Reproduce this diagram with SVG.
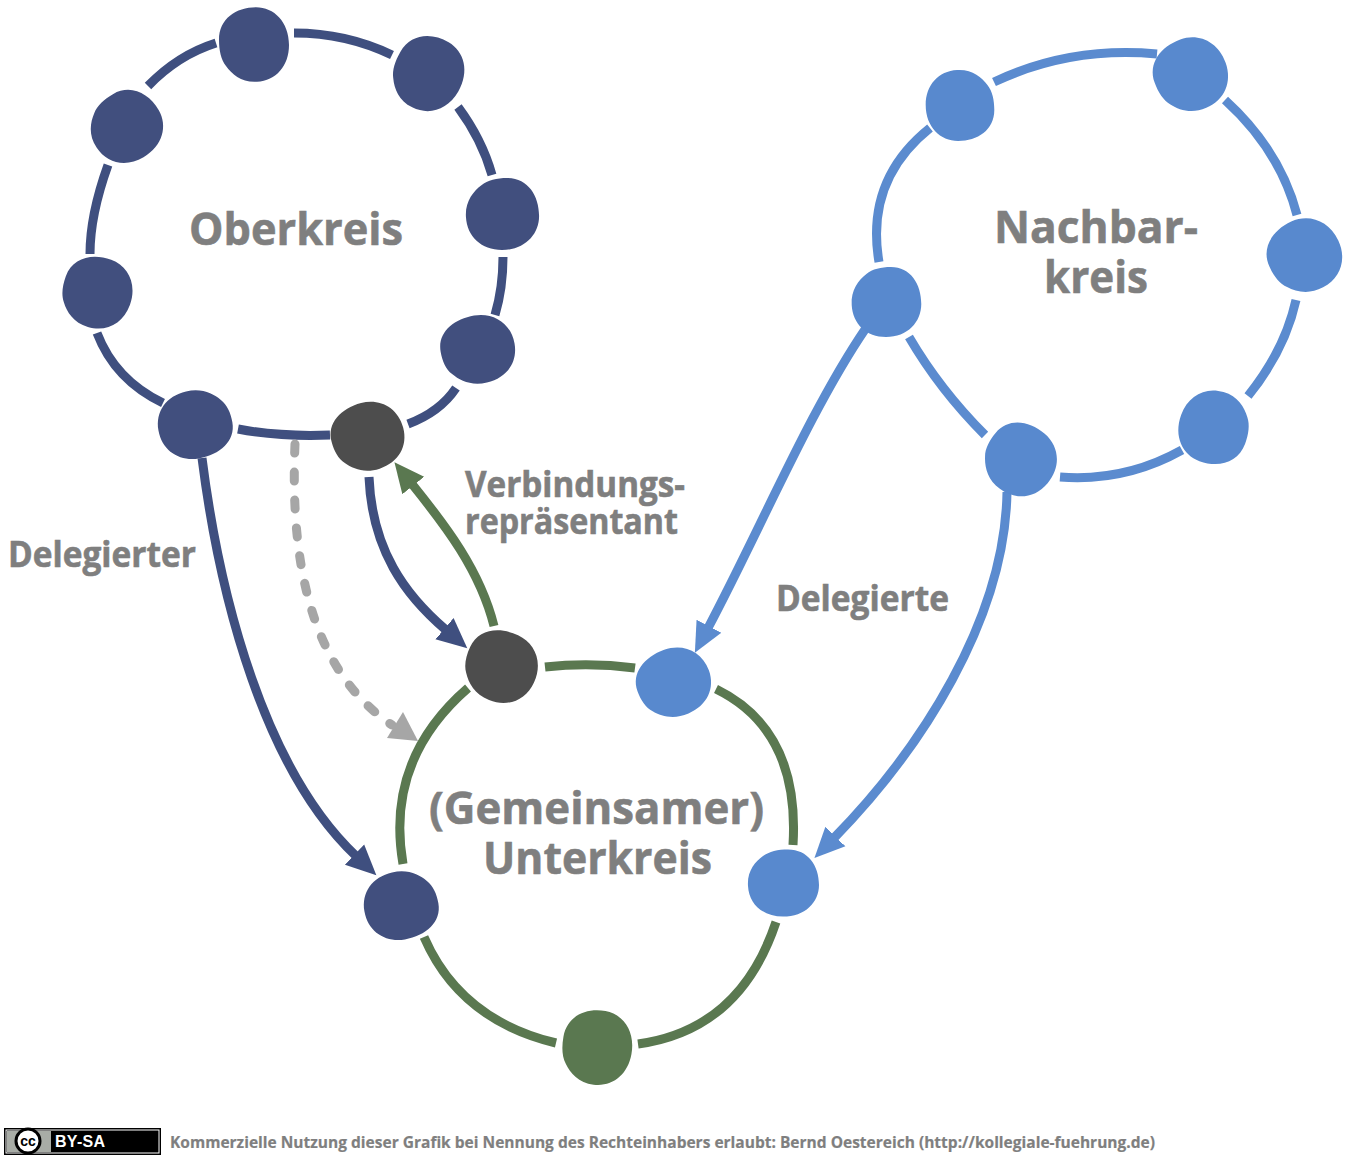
<svg xmlns="http://www.w3.org/2000/svg" width="1348" height="1161" viewBox="0 0 1348 1161">
<style>
.t{font-family:"Open Sans","Noto Sans","DejaVu Sans",sans-serif;font-weight:700;fill:#7f7f7f;stroke:#7f7f7f;stroke-width:.6}
.big{font-size:45px}.mid{font-size:35px}.foot{font-size:16px;stroke-width:.2}
.c{fill:none;stroke-width:9}
.nv{stroke:#3f4f7f}.bl{stroke:#5b8bcf}.gr{stroke:#5a7850}
.fnv{fill:#414f7e}.fbl{fill:#5889ce}.fgr{fill:#5a7850}.fdk{fill:#4d4d4d}
</style>
<defs>
<path id="b" d="M-35,-5C-35,-25 -18,-36 2,-36C20,-36 35,-22 35,0C35,20 22,34 3,35C-12,36 -22,28 -28,20C-33,14 -35,5 -35,-5Z"/>
<marker id="anv" markerUnits="userSpaceOnUse" markerWidth="34" markerHeight="34" refX="2" refY="17" orient="auto"><path d="M0,3L30,17L0,31Z" fill="#3f4f7f"/></marker>
<marker id="abl" markerUnits="userSpaceOnUse" markerWidth="34" markerHeight="34" refX="2" refY="17" orient="auto"><path d="M0,3L30,17L0,31Z" fill="#5b8bcf"/></marker>
<marker id="agr" markerUnits="userSpaceOnUse" markerWidth="34" markerHeight="34" refX="2" refY="17" orient="auto"><path d="M0,3L30,17L0,31Z" fill="#5a7850"/></marker>
</defs>
<rect width="1348" height="1161" fill="#fff"/>
<g id="connectors">
<path class="c nv" d="M216,43Q178,55 148,86"/>
<path class="c nv" d="M294,33C330,33 365,42 392,55"/>
<path class="c nv" d="M458,107C475,130 485,150 492,175"/>
<path class="c nv" d="M503,257C503,280 500,298 495,315"/>
<path class="c nv" d="M456,388Q440,412 408,424"/>
<path class="c nv" d="M330,435Q280,437 238,429"/>
<path class="c nv" d="M163,403Q115,380 97,333"/>
<path class="c nv" d="M90,254Q90,215 108,165"/>
<path class="c bl" d="M994,82Q1070,46 1157,54"/>
<path class="c bl" d="M1225,100Q1280,150 1297,215"/>
<path class="c bl" d="M1296,300Q1285,350 1248,396"/>
<path class="c bl" d="M1182,450Q1125,482 1060,477"/>
<path class="c bl" d="M985,435Q940,390 909,337"/>
<path class="c bl" d="M879,262Q865,180 930,128"/>
<path class="c gr" d="M545,667Q590,662 635,668"/>
<path class="c gr" d="M716,689Q800,730 793,845"/>
<path class="c gr" d="M776,922Q740,1030 638,1044"/>
<path class="c gr" d="M556,1043Q460,1020 424,937"/>
<path class="c gr" d="M403,864Q385,760 468,688"/>
<path class="c nv" marker-end="url(#anv)" d="M202,458C220,600 265,770 356,856"/>
<path class="c bl" marker-end="url(#abl)" d="M866,328C810,410 760,530 708,628"/>
<path class="c bl" marker-end="url(#abl)" d="M1007,492C1005,620 920,750 834,838"/>
<path class="c nv" marker-end="url(#anv)" d="M369,477C372,550 405,595 446,630"/>
<path class="c gr" marker-end="url(#agr)" d="M494,626C480,570 445,525 412,484"/>
<path d="M295,444C290,560 310,670 392,725" fill="none" stroke="#a6a6a6" stroke-width="9" stroke-linecap="round" stroke-dasharray="9 19"/>
<path d="M418,741L387,738L403,712Z" fill="#a6a6a6"/>
</g>
<g id="n1"><use href="#b" class="fnv" transform="translate(254,45) scale(1,1.05)"/></g>
<g id="n2"><use href="#b" class="fnv" transform="translate(428,74) rotate(30) scale(1,1.05)"/></g>
<g id="n3"><use href="#b" class="fnv" transform="translate(502,214) rotate(90) scale(1.03)"/></g>
<g id="n4"><use href="#b" class="fnv" transform="translate(478,350) rotate(-10) scale(1.06,.96)"/></g>
<g id="n5"><use href="#b" class="fdk" transform="translate(368,437) rotate(-15) scale(1.04,.96)"/></g>
<g id="n6"><use href="#b" class="fnv" transform="translate(195,424) rotate(170) scale(1.06,.96)"/></g>
<g id="n7"><use href="#b" class="fnv" transform="translate(97,293) rotate(20)"/></g>
<g id="n8"><use href="#b" class="fnv" transform="translate(126,127) rotate(60) scale(1,1.02)"/></g>
<g id="n9"><use href="#b" class="fbl" transform="translate(960,105) rotate(180) scale(.98,1)"/></g>
<g id="n10"><use href="#b" class="fbl" transform="translate(1191,75) rotate(-20) scale(1.05,1.03)"/></g>
<g id="n11"><use href="#b" class="fbl" transform="translate(1305,256) rotate(-25) scale(1.05,1.03)"/></g>
<g id="n12"><use href="#b" class="fbl" transform="translate(1214,427) rotate(200) scale(1,1.03)"/></g>
<g id="n13"><use href="#b" class="fbl" transform="translate(1020,460) rotate(40) scale(1.03,1)"/></g>
<g id="n14"><use href="#b" class="fbl" transform="translate(886,302) rotate(90) scale(1,.98)"/></g>
<g id="n15"><use href="#b" class="fdk" transform="translate(501,667) rotate(25) scale(1.04,1)"/></g>
<g id="n16"><use href="#b" class="fbl" transform="translate(674,683) rotate(-20) scale(1.06,.96)"/></g>
<g id="n17"><use href="#b" class="fbl" transform="translate(783,883) rotate(90) scale(.96,1)"/></g>
<g id="n18"><use href="#b" class="fgr" transform="translate(597,1048) rotate(10) scale(1,1.05)"/></g>
<g id="n19"><use href="#b" class="fnv" transform="translate(401,905) rotate(170) scale(1.06,.96)"/></g>
<g id="labels">
<text class="t big" x="189" y="245" textLength="214" lengthAdjust="spacingAndGlyphs">Oberkreis</text>
<text class="t big" x="994" y="243" textLength="204" lengthAdjust="spacingAndGlyphs">Nachbar-</text>
<text class="t big" x="1044" y="293" textLength="104" lengthAdjust="spacingAndGlyphs">kreis</text>
<text class="t big" x="429" y="824" textLength="335" lengthAdjust="spacingAndGlyphs">(Gemeinsamer)</text>
<text class="t big" x="483" y="874" textLength="229" lengthAdjust="spacingAndGlyphs">Unterkreis</text>
<text class="t mid" x="8" y="567" textLength="188" lengthAdjust="spacingAndGlyphs">Delegierter</text>
<text class="t mid" x="465" y="497" textLength="220" lengthAdjust="spacingAndGlyphs">Verbindungs-</text>
<text class="t mid" x="465" y="534" textLength="213" lengthAdjust="spacingAndGlyphs">repräsentant</text>
<text class="t mid" x="776" y="611" textLength="173" lengthAdjust="spacingAndGlyphs">Delegierte</text>
<text class="t foot" x="170" y="1148" textLength="985" lengthAdjust="spacingAndGlyphs">Kommerzielle Nutzung dieser Grafik bei Nennung des Rechteinhabers erlaubt: Bernd Oestereich (http://kollegiale-fuehrung.de)</text>
</g>
<g id="license">
<rect x="4" y="1128" width="157" height="27" fill="#000"/>
<rect x="6" y="1130" width="153" height="23" fill="#000" stroke="#fff" stroke-width="1"/>
<rect x="7" y="1131" width="44" height="21" fill="#a8aca6"/>
<circle cx="28" cy="1141" r="12" fill="#fff" stroke="#000" stroke-width="3"/>
<text x="28" y="1146" text-anchor="middle" font-family="Liberation Sans,sans-serif" font-weight="700" font-size="14" fill="#000">cc</text>
<text x="55" y="1147" font-family="Liberation Sans,sans-serif" font-weight="700" font-size="16" textLength="50" fill="#fff">BY-SA</text>
</g>
</svg>
